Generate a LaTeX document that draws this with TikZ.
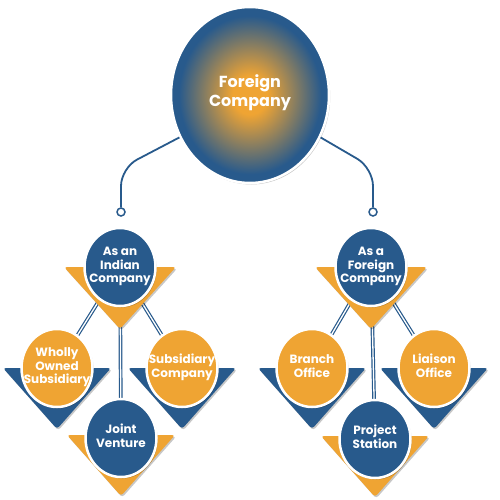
\documentclass[tikz,border=0pt]{standalone}
\usepackage{fontspec}
\setmainfont{Poppins}
\usetikzlibrary{shapes.geometric,shadows}
\definecolor{myblue}{HTML}{285A8C}
\definecolor{myorange}{HTML}{EFA433}
\pgfdeclareradialshading{fcshade}{\pgfpoint{0bp}{0bp}}{color(0bp)=(myorange); color(5.5bp)=(myorange); color(22.5bp)=(myblue); color(50bp)=(myblue)}
\pgfdeclarelayer{bg}
\pgfdeclarelayer{lines}
\pgfdeclarelayer{tris}
\pgfsetlayers{bg,lines,tris,main}
\newcommand\ctr[1]{\smash{\makebox[0pt]{\raisebox{-2.6pt}{\begin{tabular}{@{}c@{}}#1\end{tabular}}}}}
\tikzset{
  shd/.style={drop shadow={shadow xshift=1.2pt, shadow yshift=-1.5pt, opacity=0.22, fill=black}},
  bub/.style={ellipse, minimum width=71, minimum height=78, inner sep=0pt, draw=white, line width=2.5pt,
    text=white, font=\bfseries\fontsize{12}{13.5}\selectfont, shd},
  ob/.style={bub, fill=myorange},
  bb/.style={bub, fill=myblue},
  dbl/.style={draw=myblue, line width=1.2pt, double=white, double distance=1.3pt},
  conn/.style={draw=myblue, line width=1.8pt, rounded corners=18pt},
  dot/.style={circle, minimum size=8, inner sep=0pt, draw=myblue, line width=1.5pt, fill=white},
  tri/.style={rounded corners=3pt, shd}
}
\begin{document}
\begin{tikzpicture}[x=1pt, y=-1pt]
\begin{pgfonlayer}{bg}
\fill[white] (0,0) rectangle (500,500);
\end{pgfonlayer}
\useasboundingbox (0,0) rectangle (500,500);

% main node
\node[ellipse, minimum width=158, minimum height=176, inner sep=0pt, shade, shading=fcshade,
  draw=white, line width=2.5pt, shd, text=white,
  font=\bfseries\fontsize{16}{19}\selectfont] (fc) at (250,95) {\ctr{Foreign\\Company}};

% terminal dots
\node[dot] (dl) at (121,212) {};
\node[dot] (dr) at (373,212) {};
\draw[conn] (fc.211) -- (121,168) -- (dl.north);
\draw[conn] (fc.329) -- (373,168) -- (dr.north);

% left group
\node[bb] (p1) at (120,267) {\ctr{As an\\Indian\\Company}};
\node[ob] (w) at (57,368) {\ctr{Wholly\\Owned\\Subsidiary}};
\node[ob] (s) at (182,368) {\ctr{Subsidiary\\Company}};
\node[bb] (j) at (121,438) {\ctr{Joint\\Venture}};

% right group
\node[bb] (p2) at (371,267) {\ctr{As a\\Foreign\\Company}};
\node[ob] (b) at (312,368) {\ctr{Branch\\Office}};
\node[ob] (l) at (434,368) {\ctr{Liaison\\Office}};
\node[bb] (ps) at (375,439) {\ctr{Project\\Station}};

\begin{pgfonlayer}{lines}
\draw[dbl] (p1.center) -- (w.center);
\draw[dbl] (p1.center) -- (s.center);
\draw[dbl] (p1.center) -- (j.center);
\draw[dbl] (p2.center) -- (b.center);
\draw[dbl] (p2.center) -- (l.center);
\draw[dbl] (p2.center) -- (ps.center);
\end{pgfonlayer}

\begin{pgfonlayer}{tris}
\fill[myorange, tri, shift={(p1.center)}] (-56,0) -- (56,0) -- (0,62) -- cycle;
\fill[myblue, tri, shift={(w.center)}] (-54,0) -- (54,0) -- (0,61) -- cycle;
\fill[myblue, tri, shift={(s.center)}] (-54,0) -- (54,0) -- (0,61) -- cycle;
\fill[myorange, tri, shift={(j.center)}] (-54,-3) -- (54,-3) -- (0,58) -- cycle;
\fill[myorange, tri, shift={(p2.center)}] (-56,0) -- (56,0) -- (0,62) -- cycle;
\fill[myblue, tri, shift={(b.center)}] (-54,0) -- (54,0) -- (0,61) -- cycle;
\fill[myblue, tri, shift={(l.center)}] (-54,0) -- (54,0) -- (0,61) -- cycle;
\fill[myorange, tri, shift={(ps.center)}] (-54,-3) -- (54,-3) -- (0,58) -- cycle;
\end{pgfonlayer}
\end{tikzpicture}
\end{document}
